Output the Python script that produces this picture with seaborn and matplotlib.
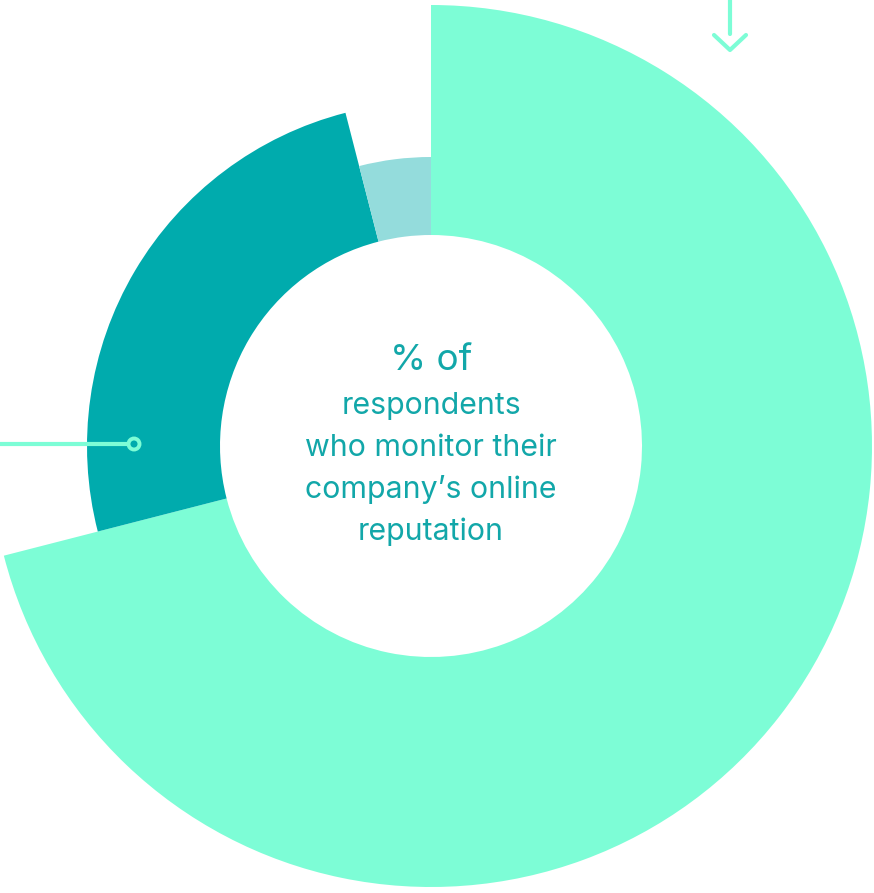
import numpy as np
import matplotlib.pyplot as plt
from matplotlib.patches import Wedge, Circle
import seaborn as sns

# Data: share of respondents (clockwise from 12 o'clock) and ring reach
labels = ['Yes', 'No', "Don't know"]
shares = [71, 25, 4]
outer_radius = [441, 344, 289]
colors = ['#7dfdd6', '#00abad', '#94dcdc']

center_lines = ['respondents', 'who monitor their', 'company\u2019s online', 'reputation']

sns.set_theme(style='white')
plt.rcParams['font.family'] = ['Inter', 'DejaVu Sans']

W, H = 874, 893
fig = plt.figure(figsize=(W / 100, H / 100), dpi=100)
ax = fig.add_axes([0, 0, 1, 1])
ax.set_xlim(0, W)
ax.set_ylim(0, H)
ax.set_aspect('equal')
ax.axis('off')

cx, cy = 431, H - 446
inner = 211

# wedges, clockwise from the top
start = 90.0
for share, r, c in zip(shares, outer_radius, colors):
    sweep = share / sum(shares) * 360
    ax.add_patch(Wedge((cx, cy), r, start - sweep, start, width=r - inner,
                       facecolor=c, edgecolor='none'))
    start -= sweep

# centre text
txt_color = '#12a7a9'
ax.text(cx, H - 360, '% of', ha='center', va='center', fontsize=26.5, color=txt_color)
for i, line in enumerate(center_lines):
    ax.text(cx, H - (406 + i * 42), line, ha='center', va='center',
            fontsize=21.8, color=txt_color)

# leader line with ring marker for the dark segment
ax.plot([0, 128], [H - 444, H - 444], color='#7dfdd6', lw=3, solid_capstyle='butt')
ax.add_patch(Circle((134, H - 444), 5.5, facecolor='none', edgecolor='#7dfdd6', lw=2.8))

# arrow at the top pointing down to the big segment
ax.plot([730, 730], [H, H - 34], color='#7dfdd6', lw=3)
ax.plot([714, 730, 746], [H - 35, H - 50, H - 35], color='#7dfdd6', lw=3)

fig.savefig('out.png', dpi=100, facecolor='white')
